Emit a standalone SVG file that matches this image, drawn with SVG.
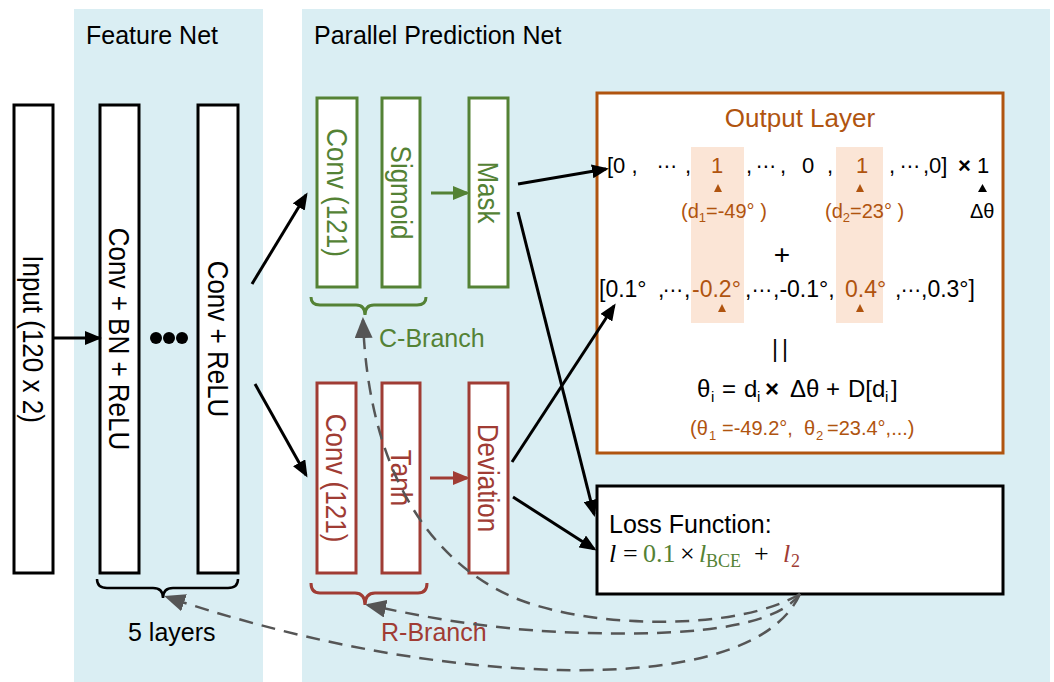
<svg xmlns="http://www.w3.org/2000/svg" width="1054" height="682" viewBox="0 0 1054 682">
<style>
text{font-family:"Liberation Sans",Arial,sans-serif;fill:#000}
.bg{fill:#daeef3}
.box{fill:#fff;stroke:#000;stroke-width:3}
.gbox{fill:#fff;stroke:#548235;stroke-width:3}
.rbox{fill:#fff;stroke:#a03c34;stroke-width:3}
.vt{font-size:26px;text-anchor:middle}
.gt{fill:#548235}
.rt{fill:#a03c34}
.bt{fill:#b0540f}
.lbl{font-size:25px}
.conn{fill:none;stroke:#000;stroke-width:3}
.dash{fill:none;stroke:#555;stroke-width:2.5;stroke-dasharray:14 9}
.hl{fill:#fbe5d6}
.ell{font-family:"DejaVu Sans",sans-serif;font-size:20px}
.serif{font-family:"Liberation Serif","Times New Roman",serif}
</style>
<defs>
<marker id="aK" markerUnits="userSpaceOnUse" markerWidth="18" markerHeight="14" refX="14" refY="7" orient="auto"><path d="M0,0 L17,7 L0,14 z" fill="#000"/></marker>
<marker id="aG" markerUnits="userSpaceOnUse" markerWidth="18" markerHeight="14" refX="14" refY="7" orient="auto"><path d="M0,0 L17,7 L0,14 z" fill="#548235"/></marker>
<marker id="aR" markerUnits="userSpaceOnUse" markerWidth="18" markerHeight="14" refX="14" refY="7" orient="auto"><path d="M0,0 L17,7 L0,14 z" fill="#a03c34"/></marker>
<marker id="aD" markerUnits="userSpaceOnUse" markerWidth="22" markerHeight="18" refX="18" refY="9" orient="auto"><path d="M0,0 L21,9 L0,18 z" fill="#555"/></marker>
</defs>

<g id="panels">
<rect class="bg" x="74" y="9" width="189" height="673"/>
<rect class="bg" x="302" y="9" width="748" height="673"/>
<text class="lbl" x="86" y="44">Feature Net</text>
<text class="lbl" x="314" y="44">Parallel Prediction Net</text>
</g>

<g id="input">
<rect class="box" x="14" y="105" width="39" height="468"/>
<text class="vt" transform="translate(33.5,339) rotate(90) scale(1,1.12)" dy="0.35em">Input (120 x 2)</text>
</g>

<g id="conv-bn-relu">
<rect class="box" x="100" y="105" width="39" height="468"/>
<text class="vt" transform="translate(119.5,339) rotate(90) scale(1,1.12)" dy="0.35em">Conv + BN + ReLU</text>
</g>

<g id="dots">
<circle cx="156" cy="338" r="6"/>
<circle cx="169" cy="338" r="6"/>
<circle cx="182" cy="338" r="6"/>
</g>

<g id="conv-relu">
<rect class="box" x="198" y="105" width="40" height="468"/>
<text class="vt" transform="translate(218,339) rotate(90) scale(1,1.12)" dy="0.35em">Conv + ReLU</text>
</g>

<g id="five-layers">
<path d="M97,579 Q97,588 107,588 L153,588 Q163,588 163,598 Q163,588 173,588 L228,588 Q238,588 238,579" fill="none" stroke="#000" stroke-width="2.5"/>
<text class="lbl" x="128" y="641">5 layers</text>
</g>

<g id="c-conv">
<rect class="gbox" x="317" y="98" width="40" height="189"/>
<text class="vt gt" transform="translate(337,192.5) rotate(90) scale(1,1.12)" dy="0.35em">Conv (121)</text>
</g>
<g id="c-sigmoid">
<rect class="gbox" x="382" y="98" width="38" height="189"/>
<text class="vt gt" transform="translate(401,192.5) rotate(90) scale(1,1.12)" dy="0.35em">Sigmoid</text>
</g>
<g id="mask">
<rect class="gbox" x="469" y="98" width="39" height="189"/>
<text class="vt gt" transform="translate(488.5,192.5) rotate(90) scale(1,1.12)" dy="0.35em">Mask</text>
</g>
<g id="c-branch">
<path d="M311,297 Q311,305 320,305 L356,305 Q365,305 365,315 Q365,305 374,305 L417,305 Q426,305 426,297" fill="none" stroke="#548235" stroke-width="3"/>
<text class="lbl gt" x="379" y="347">C-Branch</text>
</g>

<g id="r-conv">
<rect class="rbox" x="317" y="383" width="39" height="190"/>
<text class="vt rt" transform="translate(336.5,478) rotate(90) scale(1,1.12)" dy="0.35em">Conv (121)</text>
</g>
<g id="r-tanh">
<rect class="rbox" x="382" y="383" width="38" height="190"/>
<text class="vt rt" transform="translate(401,478) rotate(90) scale(1,1.12)" dy="0.35em">Tanh</text>
</g>
<g id="deviation">
<rect class="rbox" x="469" y="383" width="39" height="190"/>
<text class="vt rt" transform="translate(488.5,478) rotate(90) scale(1,1.12)" dy="0.35em">Deviation</text>
</g>
<g id="r-branch">
<path d="M311,583 Q311,593 320,593 L355,593 Q365,593 365,605 Q365,593 375,593 L418,593 Q427,593 427,583" fill="none" stroke="#a03c34" stroke-width="3"/>
<text class="lbl rt" x="381" y="641">R-Branch</text>
</g>

<g id="output-layer">
<rect x="597" y="93" width="406" height="360" fill="#fff" stroke="#b0540f" stroke-width="3"/>
<rect class="hl" x="691" y="147" width="53" height="176"/>
<rect class="hl" x="836" y="147" width="47" height="176"/>
<text class="bt" x="800" y="127" font-size="26" text-anchor="middle">Output Layer</text>
<text y="173" font-size="22"><tspan x="607">[0 ,</tspan><tspan x="657" class="ell">⋯</tspan><tspan x="685">,</tspan><tspan x="711" class="bt">1</tspan><tspan x="746">,</tspan><tspan x="756" class="ell">⋯</tspan><tspan x="780">,</tspan><tspan x="802">0</tspan><tspan x="827">,</tspan><tspan x="856" class="bt">1</tspan><tspan x="889">,</tspan><tspan x="900" class="ell">⋯</tspan><tspan x="923">,0]</tspan><tspan x="958" font-weight="bold">×</tspan><tspan x="977">1</tspan></text>
<polygon points="714,192 722,192 718,184" fill="#b0540f"/>
<polygon points="856,192 864,192 860,184" fill="#b0540f"/>
<polygon points="978,192 987,192 982.5,184" fill="#000"/>
<text class="bt" y="218" font-size="20"><tspan x="681">(d</tspan><tspan font-size="13" dy="4">1</tspan><tspan dy="-4">=-49° )</tspan></text>
<text class="bt" y="218" font-size="20"><tspan x="825">(d</tspan><tspan font-size="13" dy="4">2</tspan><tspan dy="-4">=23° )</tspan></text>
<text x="970" y="218" font-size="20">Δθ</text>
<text x="782" y="264" font-size="28" text-anchor="middle">+</text>
<text y="297" font-size="23"><tspan x="599">[0.1°</tspan><tspan x="658">,</tspan><tspan x="663" class="ell">⋯</tspan><tspan x="684">,</tspan><tspan x="692" class="bt">-0.2°</tspan><tspan x="745">,</tspan><tspan x="752" class="ell">⋯</tspan><tspan x="773">,-0.1°,</tspan><tspan x="845" class="bt">0.4°</tspan><tspan x="895">,</tspan><tspan x="901" class="ell">⋯</tspan><tspan x="921">,0.3°]</tspan></text>
<polygon points="718,312 726,312 722,304" fill="#b0540f"/>
<polygon points="856,312 864,312 860,304" fill="#b0540f"/>
<text x="782" y="357" font-size="23" text-anchor="middle" letter-spacing="4">||</text>
<text font-size="24"><tspan x="697" y="397">θ</tspan><tspan x="711" y="402" font-size="15">i</tspan><tspan x="722" y="397">=</tspan><tspan x="744" y="397">d</tspan><tspan x="757" y="402" font-size="15">i</tspan><tspan x="765" y="397" font-weight="bold">×</tspan><tspan x="790" y="397">Δθ</tspan><tspan x="826" y="397">+</tspan><tspan x="848" y="397">D[d</tspan><tspan x="885" y="402" font-size="15">i</tspan><tspan x="891" y="397">]</tspan></text>
<text class="bt" font-size="20"><tspan x="690" y="435">(θ</tspan><tspan x="709" y="440" font-size="13">1</tspan><tspan x="722" y="435">=-49.2°,</tspan><tspan x="804" y="435">θ</tspan><tspan x="816" y="440" font-size="13">2</tspan><tspan x="827" y="435">=23.4°,...)</tspan></text>
</g>

<g id="loss-function">
<rect x="597" y="486" width="406" height="108" fill="#fff" stroke="#000" stroke-width="3"/>
<text x="609" y="533" font-size="25">Loss Function:</text>
<text class="serif" font-size="26"><tspan x="609" y="562" font-style="italic">l</tspan><tspan x="623" y="562">=</tspan><tspan x="643" y="562" class="gt">0.1</tspan><tspan x="680" y="562">×</tspan><tspan x="699" y="562" class="gt" font-style="italic">l</tspan><tspan x="706" y="567" class="gt" font-size="18">BCE</tspan><tspan x="754" y="562">+</tspan><tspan x="783" y="562" class="rt" font-style="italic">l</tspan><tspan x="791" y="567" class="rt" font-size="18">2</tspan></text>
</g>

<g id="connectors">
<line class="conn" x1="53" y1="338" x2="99" y2="338" marker-end="url(#aK)"/>
<line class="conn" x1="252" y1="284" x2="306" y2="195" marker-end="url(#aK)"/>
<line class="conn" x1="255" y1="384" x2="306" y2="475" marker-end="url(#aK)"/>
<line x1="431" y1="193" x2="467" y2="193" stroke="#548235" stroke-width="3" marker-end="url(#aG)"/>
<line x1="430" y1="478" x2="467" y2="478" stroke="#a03c34" stroke-width="3" marker-end="url(#aR)"/>
<line class="conn" x1="518" y1="184" x2="606" y2="169" marker-end="url(#aK)"/>
<line class="conn" x1="518" y1="212" x2="594" y2="514" marker-end="url(#aK)"/>
<line class="conn" x1="512" y1="462" x2="614" y2="306" marker-end="url(#aK)"/>
<line class="conn" x1="513" y1="497" x2="594" y2="549" marker-end="url(#aK)"/>
<path class="dash" d="M800,594 C740,630 600,630 520,600 C430,565 368,470 363,320" marker-end="url(#aD)"/>
<path class="dash" d="M800,594 C770,635 650,636 560,632 C480,628 420,616 368,605" marker-end="url(#aD)"/>
<path class="dash" d="M800,594 C770,660 650,672 560,670 C420,667 280,635 167,597" marker-end="url(#aD)"/>
</g>
</svg>
